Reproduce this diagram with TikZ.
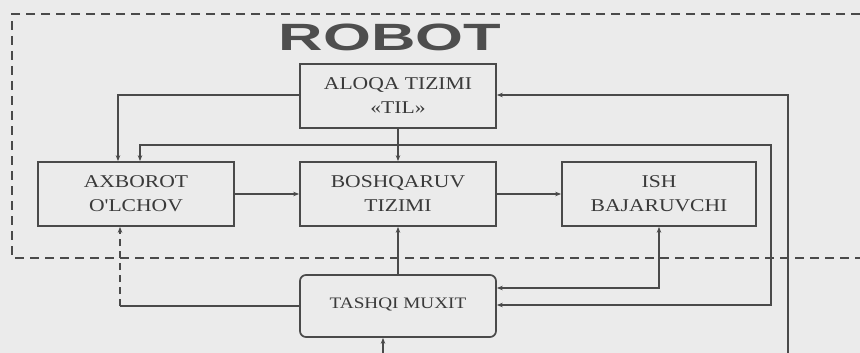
\documentclass[tikz,border=0pt]{standalone}
\usepackage{fontspec}
\setmainfont{Liberation Serif}
\newfontfamily\boxfont[FakeStretch=1.2]{Liberation Serif}
\newfontfamily\titlefont[FakeStretch=1.62]{Liberation Sans}
\usetikzlibrary{arrows.meta,calc}
\definecolor{bgc}{HTML}{EBEBEB}
\definecolor{linec}{HTML}{4A4A4A}
\definecolor{textc}{HTML}{3A3A3A}
\begin{document}
\begin{tikzpicture}[x=1pt,y=-1pt,
  box/.style={draw=linec, line width=1.7pt, minimum width=196pt, minimum height=64pt,
    align=center, text=textc, font=\boxfont\fontsize{18}{24}\selectfont, inner sep=0pt},
  conn/.style={draw=linec, line width=1.6pt},
  tip/.style={-{Stealth[length=6pt,width=4.5pt]}},
  tipr/.style={{Stealth[length=6pt,width=4.5pt]}-},
  tipb/.style={{Stealth[length=6pt,width=4.5pt]}-{Stealth[length=6pt,width=4.5pt]}},
  frame/.style={draw=linec, line width=1.4pt, dash pattern=on 9pt off 6pt}]
\useasboundingbox (0,0) rectangle (860,353);
\fill[bgc] (0,0) rectangle (860,353);
% dashed robot boundary
\draw[frame] (875,14) -- (12,14) -- (12,258) -- (875,258);
\node[font=\titlefont\bfseries\fontsize{38}{38}\selectfont, text=textc!90] (title) at (390,37) {ROBOT};
% boxes
\node[box] (aloqa) at (398,96) {ALOQA TIZIMI\\«TIL»};
\node[box] (axb) at (136,194) {AXBOROT\\O'LCHOV};
\node[box] (bosh) at (398,194) {BOSHQARUV\\TIZIMI};
\node[box, minimum width=194pt, minimum height=64pt] (ish) at (659,194) {ISH\\BAJARUVCHI};
\node[box, rounded corners=6pt, minimum height=62pt, font=\boxfont\fontsize{16}{20}\selectfont] (tash) at (398,306) {\raisebox{5pt}{TASHQI MUXIT}};
% free corner points
\coordinate (c1) at (118,95);
\coordinate (c2) at (140,145);
\coordinate (c3) at (771,145);
\coordinate (c4) at (771,305);
\coordinate (c5) at (788,95);
\coordinate (c6) at (788,360);
\coordinate (c7) at (659,288);
\coordinate (c8) at (120,306);
\coordinate (c9) at (383,360);
% connectors
\draw[conn,tip] (aloqa.west |- c1) -| (c1 |- axb.north);
\draw[conn,tip] (aloqa.south) -- (bosh.north);
\draw[conn,tipb] (tash.east |- c4) -- (c4) -- (c3) -- (c2) -- (c2 |- axb.north);
\draw[conn,tipr] (aloqa.east |- c5) -- (c5) -- (c6);
\draw[conn,tip] (axb.east) -- (bosh.west);
\draw[conn,tip] (bosh.east) -- (ish.west);
\draw[conn,tipr] (bosh.south) -- (tash.north);
\draw[conn,tipb] (c7 |- ish.south) -- (c7) -- (tash.east |- c7);
\draw[conn] (tash.west |- c8) -- (c8);
\draw[conn,tip,dash pattern=on 7pt off 5pt] (c8) -- (c8 |- axb.south);
\draw[conn,tipr] (c9 |- tash.south) -- (c9);
\end{tikzpicture}
\end{document}
